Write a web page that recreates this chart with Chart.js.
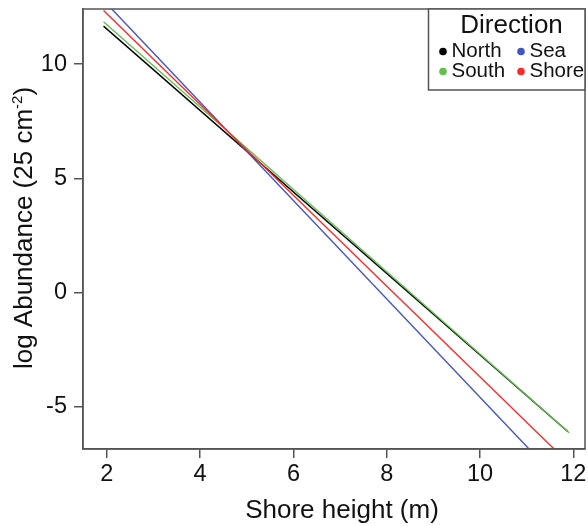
<!DOCTYPE html>
<html>
<head>
<meta charset="utf-8">
<script src="https://cdn.jsdelivr.net/npm/chart.js@4.4.1/dist/chart.umd.min.js"></script>
<style>
    html, body { margin: 0; padding: 0; background: #ffffff; }
    #wrap { width: 588px; height: 526px; }
</style>
</head>
<body>
<div id="wrap">
    <canvas id="shoreChart" width="588" height="526"></canvas>
</div>
<script>

// ==========================
// DATOS
// ==========================

const directions = ["North", "Sea", "South", "Shore"];

const northX = [1.93, 11.88];
const northY = [11.66, -6.08];

const seaX = [1.93, 11.85];
const seaY = [12.79, -8.57];

const southX = [1.93, 11.91];
const southY = [11.85, -6.14];

const shoreX = [1.93, 11.85];
const shoreY = [12.34, -7.37];

const xTicks = [2, 4, 6, 8, 10, 12];
const yTicks = [-5, 0, 5, 10];

const xLabel = "Shore height (m)";
const yLabel = ["log Abundance (25 cm", "-2", ")"];
const legendTitle = "Direction";

const lineColors = ["#000000", "#4455c0", "#62c04f", "#ff2a2a"];

// orden de dibujo (el menor queda arriba)
const drawOrder = [4, 3, 2, 1];

const FONT = "'Liberation Sans', Arial, sans-serif";


function toPoints(xs, ys) {
    return xs.map((x, i) => ({ x: x, y: ys[i] }));
}

const seriesData = [
    toPoints(northX, northY),
    toPoints(seaX, seaY),
    toPoints(southX, southY),
    toPoints(shoreX, shoreY)
];


// ==========================
// CAJA, TITULOS Y LEYENDA
// ==========================

const boxPlugin = {

    id: "boxPlugin",

    afterDraw(chart) {

        const ctx = chart.ctx;
        const a = chart.chartArea;

        ctx.save();

        // marco del grafico
        ctx.strokeStyle = "#555555";
        ctx.lineWidth = 1.5;
        ctx.strokeRect(a.left, a.top, a.right - a.left, a.bottom - a.top);

        // leyenda
        const lx = 428.5;
        const ly = a.top;
        const lw = a.right - lx;
        const lh = 90 - a.top;

        ctx.fillStyle = "#ffffff";
        ctx.fillRect(lx, ly, lw, lh);
        ctx.strokeRect(lx, ly, lw, lh);

        ctx.fillStyle = "#111111";
        ctx.textAlign = "center";
        ctx.textBaseline = "alphabetic";
        ctx.font = "26px " + FONT;
        ctx.fillText(legendTitle, 511.5, 33);

        const cols = [443, 521];
        const rows = [57, 77];

        ctx.font = "20.5px " + FONT;
        ctx.textAlign = "left";

        directions.forEach((name, i) => {

            // orden R: North, Sea / South, Shore
            const col = i % 2;
            const row = Math.floor(i / 2);

            ctx.fillStyle = lineColors[i];
            ctx.beginPath();
            ctx.arc(cols[col], rows[row] - 5.5, 3.8, 0, Math.PI * 2);
            ctx.fill();

            ctx.fillStyle = "#111111";
            ctx.fillText(name, cols[col] + 8.5, rows[row]);

        });

        // titulo eje x
        ctx.font = "26px " + FONT;
        ctx.textAlign = "center";
        ctx.fillText(xLabel, 342, 518);

        // titulo eje y con superindice
        ctx.translate(31.5, 228);
        ctx.rotate(-Math.PI / 2);

        ctx.font = "26px " + FONT;
        const w1 = ctx.measureText(yLabel[0]).width;
        const w3 = ctx.measureText(yLabel[2]).width;
        ctx.font = "15px " + FONT;
        const w2 = ctx.measureText(yLabel[1]).width;

        let x0 = -(w1 + w2 + w3) / 2;

        ctx.textAlign = "left";
        ctx.font = "26px " + FONT;
        ctx.fillText(yLabel[0], x0, 0);

        ctx.font = "15px " + FONT;
        ctx.fillText(yLabel[1], x0 + w1, -10);

        ctx.font = "26px " + FONT;
        ctx.fillText(yLabel[2], x0 + w1 + w2, 0);

        ctx.restore();

    }

};


// ==========================
// GRAFICO
// ==========================

const canvas = document.getElementById("shoreChart");

new Chart(canvas, {

    type: "scatter",

    data: {

        datasets: directions.map((name, i) => ({
            label: name,
            data: seriesData[i],
            order: drawOrder[i],
            showLine: true,
            borderColor: lineColors[i],
            backgroundColor: lineColors[i],
            borderWidth: 1.4,
            pointRadius: 0,
            pointHoverRadius: 0,
            fill: false
        }))

    },

    options: {

        responsive: false,
        animation: false,
        devicePixelRatio: 1,

        layout: {
            padding: { top: 9, right: 3, left: 0, bottom: 0 }
        },

        plugins: {
            legend: { display: false },
            tooltip: { enabled: false }
        },

        scales: {

            x: {
                type: "linear",
                min: 1.49,
                max: 12.25,
                afterBuildTicks: (scale) => {
                    scale.ticks = xTicks.map(v => ({ value: v }));
                },
                afterFit: (scale) => {
                    scale.height = 77;
                    scale.paddingLeft = 0;
                    scale.paddingRight = 0;
                },
                grid: {
                    drawOnChartArea: false,
                    drawTicks: true,
                    tickLength: 9,
                    color: "#555555",
                    lineWidth: 1.5
                },
                border: { display: true, color: "#555555", width: 1.5 },
                ticks: {
                    color: "#111111",
                    padding: 2,
                    maxRotation: 0,
                    font: { family: FONT, size: 23.5 }
                }
            },

            y: {
                type: "linear",
                min: -6.85,
                max: 12.41,
                afterBuildTicks: (scale) => {
                    scale.ticks = yTicks.map(v => ({ value: v }));
                },
                afterFit: (scale) => {
                    scale.width = 83;
                    scale.paddingTop = 0;
                    scale.paddingBottom = 0;
                },
                grid: {
                    drawOnChartArea: false,
                    drawTicks: true,
                    tickLength: 9,
                    color: "#555555",
                    lineWidth: 1.5
                },
                border: { display: true, color: "#555555", width: 1.5 },
                ticks: {
                    color: "#111111",
                    padding: 7,
                    font: { family: FONT, size: 23.5 }
                }
            }

        }

    },

    plugins: [boxPlugin]

});

</script>
</body>
</html>
